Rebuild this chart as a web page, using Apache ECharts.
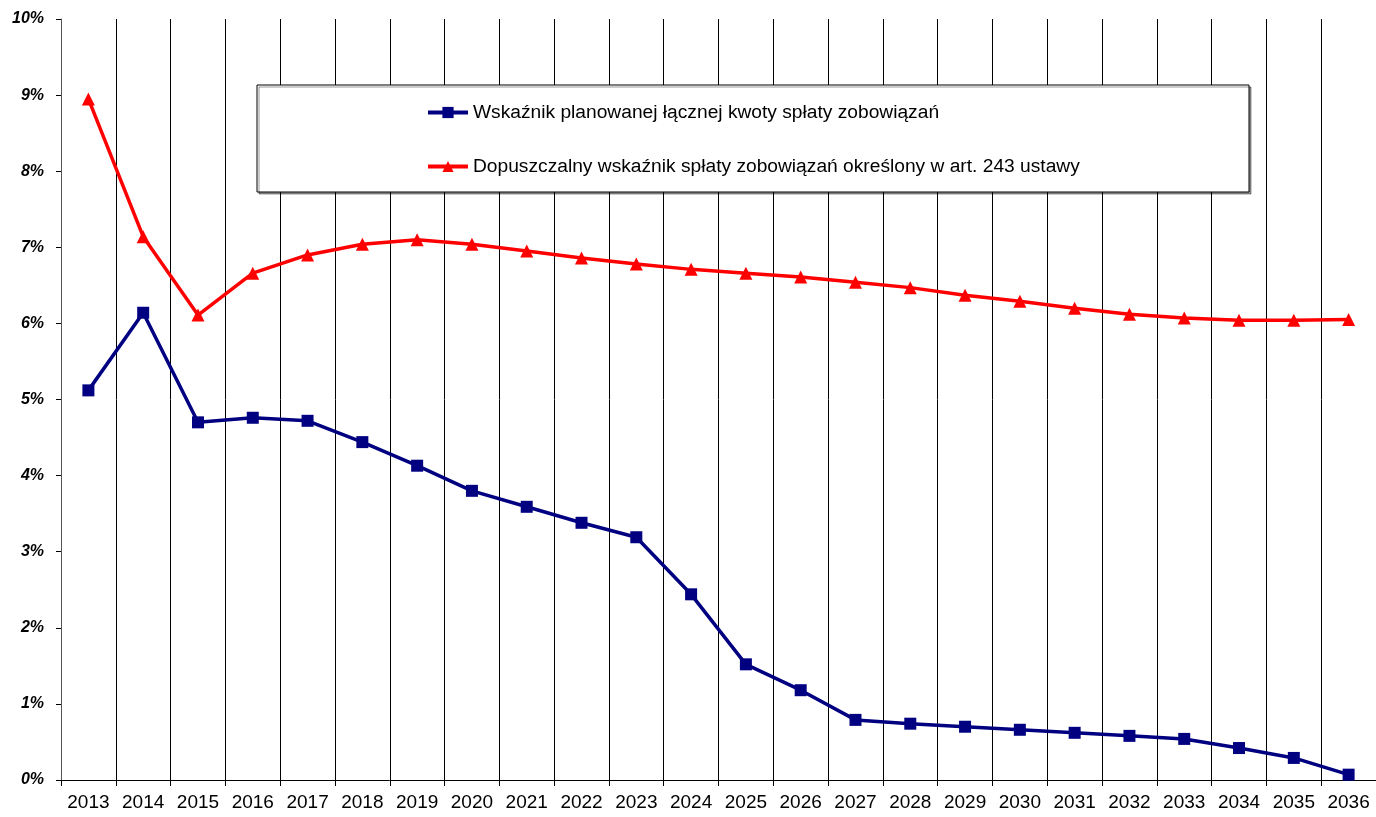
<!DOCTYPE html>
<html>
<head>
<meta charset="utf-8">
<script src="https://cdn.jsdelivr.net/npm/echarts@6/dist/echarts.min.js"></script>
<style>html,body{margin:0;padding:0;background:#fff}#c{width:1376px;height:817px}</style>
</head>
<body>
<div id="c"></div>
<script>
const years = ['2013','2014','2015','2016','2017','2018','2019','2020','2021','2022','2023','2024','2025','2026','2027','2028','2029','2030','2031','2032','2033','2034','2035','2036'];
const planned = [5.12, 6.14, 4.70, 4.76, 4.72, 4.44, 4.13, 3.80, 3.59, 3.38, 3.19, 2.44, 1.52, 1.18, 0.79, 0.74, 0.70, 0.66, 0.62, 0.58, 0.54, 0.42, 0.29, 0.07];
const allowed = [8.95, 7.14, 6.11, 6.66, 6.90, 7.04, 7.10, 7.04, 6.95, 6.86, 6.78, 6.71, 6.66, 6.61, 6.54, 6.47, 6.37, 6.29, 6.20, 6.12, 6.07, 6.04, 6.04, 6.05];
const seriesNames = ['Wskaźnik planowanej łącznej kwoty spłaty zobowiązań', 'Dopuszczalny wskaźnik spłaty zobowiązań określony w art. 243 ustawy'];

const FONT = '"Liberation Sans", Arial, sans-serif';
const legendBase = {
  z: 60, orient: 'vertical', left: 426, padding: 0,
  itemWidth: 40, itemHeight: 14,
  lineStyle: { width: 4 },
  textStyle: { fontSize: 19.2, color: '#000', fontFamily: FONT, padding: [0, 0, 0, 0] }
};

const chart = echarts.init(document.getElementById('c'));
chart.setOption({
  animation: false,
  backgroundColor: '#fff',
  textStyle: { fontFamily: FONT },
  grid: { left: 61, right: -1, top: 19, bottom: 37, containLabel: false },
  graphic: [{
    type: 'rect', z: 50,
    shape: { x: 257, y: 85, width: 992, height: 107 },
    style: { fill: '#fff', stroke: '#000', lineWidth: 1, shadowColor: 'rgba(0,0,0,0.4)', shadowOffsetX: 2, shadowOffsetY: 2, shadowBlur: 0 }
  }],
  legend: [
    Object.assign({}, legendBase, { top: 103, data: [seriesNames[0]] }),
    Object.assign({}, legendBase, { top: 157, data: [seriesNames[1]] })
  ],
  xAxis: {
    type: 'category', data: years, boundaryGap: true,
    axisLine: { lineStyle: { color: '#000', width: 1 } },
    axisTick: { show: true, length: 6, lineStyle: { color: '#000' } },
    axisLabel: { color: '#000', fontSize: 19, margin: 13, interval: 0 },
    splitLine: { show: true, interval: 0, lineStyle: { color: '#000', width: 1 } }
  },
  yAxis: {
    type: 'value', min: 0, max: 10, interval: 1,
    axisLine: { show: true, lineStyle: { color: '#555', width: 1 } },
    axisTick: { show: true, length: 5, lineStyle: { color: '#000' } },
    axisLabel: { color: '#000', fontSize: 16, fontStyle: 'italic', fontWeight: 'bold', margin: 17, formatter: '{value}%' },
    splitLine: { show: false }
  },
  series: [
    {
      name: seriesNames[0], type: 'line', data: planned,
      symbol: 'rect', symbolSize: 12,
      lineStyle: { color: '#000080', width: 3.5 },
      itemStyle: { color: '#000080' }
    },
    {
      name: seriesNames[1], type: 'line', data: allowed,
      symbol: 'triangle', symbolSize: 13,
      lineStyle: { color: '#ff0000', width: 3.5 },
      itemStyle: { color: '#ff0000' }
    }
  ]
});
</script>
</body>
</html>
